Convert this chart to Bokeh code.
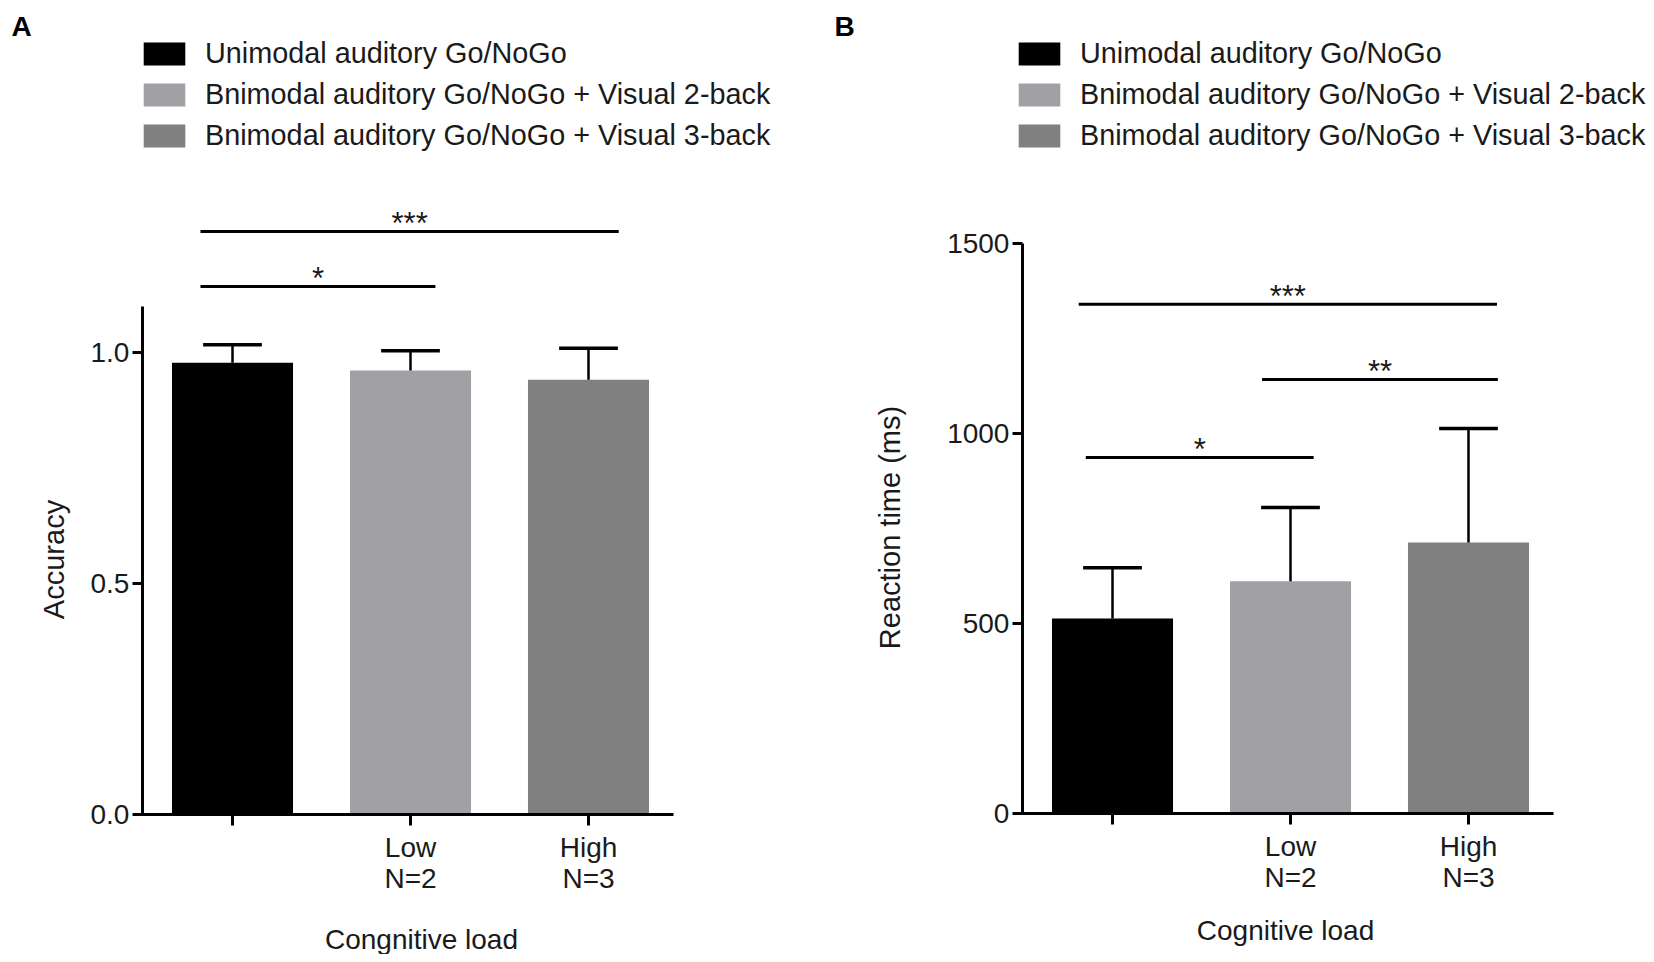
import math
from bokeh.plotting import figure
from bokeh.models import Range1d, ColumnDataSource, Legend, LegendItem, Label, FixedTicker
from bokeh.layouts import row
from bokeh.embed import file_html
from bokeh.resources import INLINE
from bokeh.core.properties import value

# ---------------- data ----------------
conditions = [
    "Unimodal auditory Go/NoGo",
    "Bnimodal auditory Go/NoGo + Visual 2-back",
    "Bnimodal auditory Go/NoGo + Visual 3-back",
]
positions = [0, 1, 2]
x_tick_labels = ["", "Low\nN=2", "High\nN=3"]
bar_colors = ["#000000", "#a1a1a5", "#808080"]

acc_mean = [0.978, 0.961, 0.941]
acc_err = [0.039, 0.043, 0.068]
acc_ticks = [0.0, 0.5, 1.0]
acc_tick_labels = ["0.0", "0.5", "1.0"]
acc_sig_start = [-0.18, -0.18]
acc_sig_end = [2.17, 1.14]
acc_sig_y = [1.262, 1.143]
acc_sig_text = ["***", "*"]

rt_mean = [513, 611, 713]
rt_err = [134, 194, 300]
rt_ticks = [0, 500, 1000, 1500]
rt_tick_labels = ["0", "500", "1000", "1500"]
rt_sig_start = [-0.19, 0.84, -0.15]
rt_sig_end = [2.16, 2.165, 1.13]
rt_sig_y = [1340, 1142, 937]
rt_sig_text = ["***", "**", "*"]

FONT = "Liberation Sans"
TXT = "#1a1a1a"
PX_PER_CAT = 178.0
HEIGHT = 954
AXIS_X = -0.506          # category position of the y axis line
AXIS_X_END = 2.48        # category position of the x axis right end


def make_panel(width, x0_px, y0_px, px_per_unit, y_bound,
               y_ticks, y_tick_labels, means, errs,
               sig_start, sig_end, sig_y, sig_text,
               letter, letter_xy, ylabel, ylabel_xy, xlabel, xlabel_xy,
               legend_xy):
    # x0_px: pixel (within figure) of category 0; y0_px: pixel (from top) of value 0
    p = figure(width=width, height=HEIGHT, output_backend="svg",
               toolbar_location=None, title=None,
               x_range=Range1d(-x0_px / PX_PER_CAT, (width - x0_px) / PX_PER_CAT),
               y_range=Range1d(-(HEIGHT - y0_px) / px_per_unit, y0_px / px_per_unit),
               min_border_left=0, min_border_right=0,
               min_border_top=0, min_border_bottom=0)
    p.xgrid.visible = False
    p.ygrid.visible = False
    p.outline_line_color = None
    p.background_fill_color = "white"
    p.border_fill_color = "white"

    # x axis
    xa = p.xaxis[0]
    xa.fixed_location = 0
    xa.bounds = (AXIS_X - 0.005, AXIS_X_END)
    xa.ticker = FixedTicker(ticks=positions)
    xa.major_label_overrides = {k: v for k, v in zip(positions, x_tick_labels)}
    xa.minor_tick_line_color = None
    xa.major_tick_in = 0
    xa.major_tick_out = 11
    xa.axis_line_width = 3
    xa.major_tick_line_width = 3
    xa.axis_line_color = "black"
    xa.major_tick_line_color = "black"
    xa.major_label_text_font = FONT
    xa.major_label_text_font_size = "28px"
    xa.major_label_text_color = TXT
    xa.major_label_text_line_height = 1.0
    xa.major_label_standoff = 6

    # y axis
    ya = p.yaxis[0]
    ya.fixed_location = AXIS_X
    ya.bounds = (0, y_bound)
    ya.ticker = FixedTicker(ticks=y_ticks)
    ya.major_label_overrides = {k: v for k, v in zip(y_ticks, y_tick_labels)}
    ya.minor_tick_line_color = None
    ya.major_tick_in = 0
    ya.major_tick_out = 10
    ya.axis_line_width = 3
    ya.major_tick_line_width = 3
    ya.axis_line_color = "black"
    ya.major_tick_line_color = "black"
    ya.major_label_text_font = FONT
    ya.major_label_text_font_size = "28px"
    ya.major_label_text_color = TXT
    ya.major_label_standoff = 3

    # bars
    src = ColumnDataSource(dict(x=positions, top=means, color=bar_colors, label=conditions))
    bars = p.vbar(x="x", top="top", bottom=0, width=0.68, fill_color="color",
                  line_color=None, source=src)

    # error bars (upper only)
    upper = [m + e for m, e in zip(means, errs)]
    p.segment(x0=positions, y0=means, x1=positions, y1=upper,
              line_color="black", line_width=2.5)
    p.segment(x0=[x - 0.165 for x in positions], x1=[x + 0.165 for x in positions],
              y0=upper, y1=upper, line_color="black", line_width=3.5)

    # significance brackets
    p.segment(x0=sig_start, x1=sig_end, y0=sig_y, y1=sig_y,
              line_color="black", line_width=3)
    p.text(x=[(s + e) / 2 for s, e in zip(sig_start, sig_end)], y=sig_y, text=sig_text,
           text_align="center", text_baseline="alphabetic", y_offset=-8,
           text_font=value(FONT), text_font_size="31px", text_color=TXT)

    # legend
    items = [LegendItem(label=conditions[i], renderers=[bars], index=i) for i in range(3)]
    leg = Legend(items=items, location=legend_xy, orientation="vertical",
                 label_text_font=FONT, label_text_font_size="28.8px", label_text_color=TXT,
                 glyph_width=52, glyph_height=29, label_standoff=15,
                 spacing=0, label_height=41, padding=0, margin=0,
                 border_line_alpha=0, background_fill_alpha=0)
    p.add_layout(leg)

    # labels
    p.add_layout(Label(x=letter_xy[0], y=letter_xy[1], x_units="screen", y_units="screen",
                       text=letter, text_align="center", text_baseline="middle",
                       text_font=FONT, text_font_style="bold", text_font_size="28px",
                       text_color="black"))
    p.add_layout(Label(x=ylabel_xy[0], y=ylabel_xy[1], x_units="screen", y_units="screen",
                       text=ylabel, text_align="center", text_baseline="middle",
                       angle=math.pi / 2, text_font=FONT, text_font_size="29px",
                       text_color=TXT))
    p.add_layout(Label(x=xlabel_xy[0], y=xlabel_xy[1], x_units="screen", y_units="screen",
                       text=xlabel, text_align="center", text_baseline="middle",
                       text_font=FONT, text_font_size="28px", text_color=TXT))
    return p


pA = make_panel(828, 232, 814, 462.0, 1.1,
                acc_ticks, acc_tick_labels, acc_mean, acc_err,
                acc_sig_start, acc_sig_end, acc_sig_y, acc_sig_text,
                "A", (21, 928), "Accuracy", (53, 395), "Congnitive load", (421, 15),
                (138, 798))

pB = make_panel(826, 284, 813, 0.38, 1500,
                rt_ticks, rt_tick_labels, rt_mean, rt_err,
                rt_sig_start, rt_sig_end, rt_sig_y, rt_sig_text,
                "B", (16, 928), "Reaction time (ms)", (61, 427), "Cognitive load", (457, 24),
                (185, 798))

layout = row(pA, pB)
open("out.html", "w").write(file_html(layout, INLINE))
